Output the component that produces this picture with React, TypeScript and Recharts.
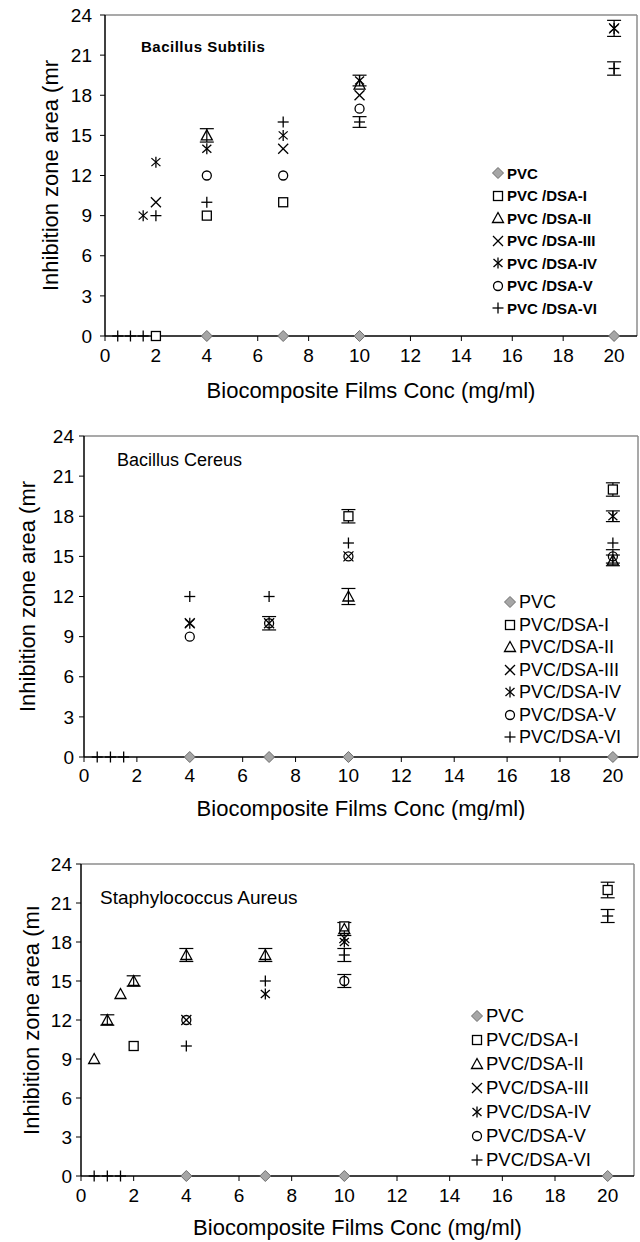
import React from "react";
import {
  ScatterChart,
  Scatter,
  XAxis,
  YAxis,
  ErrorBar,
  ReferenceLine
} from "recharts";

const FONT = '"Liberation Sans", Arial, sans-serif';

// concentrations (mg/ml) shared by all panels
const conc = [0.5, 1, 1.5, 2, 4, 7, 10, 20];
const xTicks = [0, 2, 4, 6, 8, 10, 12, 14, 16, 18, 20];
const yTicks = [0, 3, 6, 9, 12, 15, 18, 21, 24];

const seriesNames = ["PVC", "PVC/DSA-I", "PVC/DSA-II", "PVC/DSA-III", "PVC/DSA-IV", "PVC/DSA-V", "PVC/DSA-VI"];
const seriesMarks = ["diamond", "square", "triangle", "x", "star", "circle", "plus"];

type V = number | null;

// Bacillus Subtilis
const subPVC: V[] = [null, null, null, null, 0, 0, 0, 0];
const subI: V[] = [null, null, null, 0, 9, 10, null, null];
const subII: V[] = [null, null, null, null, 15, null, 18.8, null];
const subIII: V[] = [null, null, null, 10, null, 14, 18, 23];
const subIV: V[] = [null, null, 9, 13, 14, 15, 19.1, 23];
const subV: V[] = [null, null, null, null, 12, 12, 17, null];
const subVI: V[] = [0, 0, 0, 9, 10, 16, 16, 20];
const subIIErr: V[] = [null, null, null, null, 0.5, null, null, null];
const subIVErr: V[] = [null, null, null, null, null, null, 0.4, 0.6];
const subVIErr: V[] = [null, null, null, null, null, null, 0.4, 0.5];

// Bacillus Cereus
const cerPVC: V[] = [null, null, null, null, 0, 0, 0, 0];
const cerI: V[] = [null, null, null, null, null, null, 18, 20];
const cerII: V[] = [null, null, null, null, null, null, 12, 14.7];
const cerIII: V[] = [null, null, null, null, 10, 10, 15, null];
const cerIV: V[] = [null, null, null, null, 10, null, null, 18];
const cerV: V[] = [null, null, null, null, 9, 10, 15, 15];
const cerVI: V[] = [0, 0, 0, null, 12, 12, 16, 16];
const cerIErr: V[] = [null, null, null, null, null, null, 0.5, 0.5];
const cerIIErr: V[] = [null, null, null, null, null, null, 0.6, 0.4];
const cerIVErr: V[] = [null, null, null, null, null, null, null, 0.4];
const cerVErr: V[] = [null, null, null, null, null, 0.5, null, 0.5];

// Staphylococcus Aureus
const aurPVC: V[] = [null, null, null, null, 0, 0, 0, 0];
const aurI: V[] = [null, null, null, 10, null, null, 19.2, 22];
const aurII: V[] = [9, 12, 14, 15, 17, 17, 19, null];
const aurIII: V[] = [null, null, null, null, 12, null, 18.3, null];
const aurIV: V[] = [null, null, null, null, null, 14, 18, null];
const aurV: V[] = [null, null, null, null, 12, null, 15, null];
const aurVI: V[] = [0, 0, 0, null, 10, 15, 17, 20];
const aurIErr: V[] = [null, null, null, null, null, null, null, 0.6];
const aurIIErr: V[] = [null, 0.4, null, 0.4, 0.5, 0.5, 0.5, null];
const aurVErr: V[] = [null, null, null, null, null, null, 0.5, null];
const aurVIErr: V[] = [null, null, null, null, null, null, 0.5, 0.5];

function Mark({ kind, cx, cy }: { kind: string; cx: number; cy: number }) {
  const s = 5;
  const k = { stroke: "#000", strokeWidth: 1.3, fill: "none" };
  switch (kind) {
    case "diamond":
      return (
        <polygon
          points={`${cx},${cy - 5.5} ${cx + 5.5},${cy} ${cx},${cy + 5.5} ${cx - 5.5},${cy}`}
          fill="#a6a6a6"
          stroke="#6e6e6e"
          strokeWidth={1}
        />
      );
    case "square":
      return <rect x={cx - 4.5} y={cy - 4.5} width={9} height={9} {...k} fill="#fff" />;
    case "triangle":
      return <polygon points={`${cx},${cy - 5.5} ${cx + 5.5},${cy + 4.5} ${cx - 5.5},${cy + 4.5}`} {...k} />;
    case "x":
      return (
        <g {...k}>
          <line x1={cx - s} y1={cy - s} x2={cx + s} y2={cy + s} />
          <line x1={cx - s} y1={cy + s} x2={cx + s} y2={cy - s} />
        </g>
      );
    case "star":
      return (
        <g {...k}>
          <line x1={cx - 4.5} y1={cy - 4} x2={cx + 4.5} y2={cy + 4} />
          <line x1={cx - 4.5} y1={cy + 4} x2={cx + 4.5} y2={cy - 4} />
          <line x1={cx} y1={cy - 5.5} x2={cx} y2={cy + 5.5} />
        </g>
      );
    case "circle":
      return <circle cx={cx} cy={cy} r={4.5} {...k} />;
    default:
      return (
        <g {...k}>
          <line x1={cx - 5.5} y1={cy} x2={cx + 5.5} y2={cy} />
          <line x1={cx} y1={cy - 5.5} x2={cx} y2={cy + 5.5} />
        </g>
      );
  }
}

const toPoints = (vals: V[], errs?: V[]) =>
  conc
    .map((x, i) => ({ x, y: vals[i], err: errs && errs[i] != null ? errs[i] : undefined }))
    .filter((d) => d.y != null);

type PanelProps = {
  height: number;
  plotTop: number;
  plotBottom: number;
  left: number;
  right: number;
  xMax: number;
  species: string;
  speciesStyle: React.CSSProperties;
  speciesPos: [number, number];
  yLabel: string;
  yLabelDx: number;
  titleOffset: number;
  tickFont: number;
  xTickMargin: number;
  yTickMargin: number;
  legendPos: [number, number];
  legendGap: number;
  legendStyle: React.CSSProperties;
  legendNames: string[];
  series: { vals: V[]; errs?: V[] }[];
};

function Panel(p: PanelProps) {
  return (
    <div style={{ position: "relative", width: 640, height: p.height }}>
      <ScatterChart
        width={640}
        height={p.height}
        margin={{ top: p.plotTop, right: 640 - p.right, bottom: 0, left: 0 }}
        style={{ fontFamily: FONT, overflow: "visible" }}
      >
        <XAxis
          type="number"
          dataKey="x"
          domain={[0, p.xMax]}
          ticks={xTicks}
          allowDataOverflow
          height={p.height - p.plotBottom}
          axisLine={{ stroke: "#000", strokeWidth: 1.5 }}
          tickLine={{ stroke: "#000" }}
          tickSize={5}
          tickMargin={p.xTickMargin}
          tick={{ fill: "#000", fontSize: p.tickFont }}
          label={{
            value: "Biocomposite Films Conc (mg/ml)",
            position: "insideBottom",
            offset: p.titleOffset,
            style: { fontSize: 22, fill: "#000" }
          }}
        />
        <YAxis
          type="number"
          dataKey="y"
          domain={[0, 24]}
          ticks={yTicks}
          width={p.left}
          axisLine={{ stroke: "#000", strokeWidth: 1.5 }}
          tickLine={{ stroke: "#000" }}
          tickSize={5}
          tickMargin={p.yTickMargin}
          tick={{ fill: "#000", fontSize: p.tickFont }}
          label={{
            value: p.yLabel,
            angle: -90,
            position: "center",
            dx: p.yLabelDx,
            style: { fontSize: 22, fill: "#000", textAnchor: "middle" }
          }}
        />
        <ReferenceLine y={24} stroke="#8c8c8c" strokeWidth={1.5} />
        <ReferenceLine x={p.xMax} stroke="#8c8c8c" strokeWidth={1.5} />
        {p.series.map((s, i) => (
          <Scatter
            key={seriesNames[i]}
            name={seriesNames[i]}
            data={toPoints(s.vals, s.errs)}
            isAnimationActive={false}
            shape={(props: any) => <Mark kind={seriesMarks[i]} cx={props.cx} cy={props.cy} />}
          >
            {s.errs && <ErrorBar dataKey="err" direction="y" width={7} stroke="#000" strokeWidth={1.2} />}
          </Scatter>
        ))}
      </ScatterChart>
      <div
        style={{
          position: "absolute",
          left: p.speciesPos[0],
          top: p.speciesPos[1],
          fontFamily: FONT,
          whiteSpace: "nowrap",
          lineHeight: 1,
          ...p.speciesStyle
        }}
      >
        {p.species}
      </div>
      <div style={{ position: "absolute", left: p.legendPos[0], top: p.legendPos[1], fontFamily: FONT }}>
        {p.legendNames.map((n, i) => (
          <div key={n} style={{ display: "flex", alignItems: "center", height: p.legendGap, whiteSpace: "nowrap" }}>
            <svg width={14} height={14} style={{ marginRight: 2 }}>
              <Mark kind={seriesMarks[i]} cx={7} cy={7} />
            </svg>
            <span style={{ lineHeight: 1, ...p.legendStyle }}>{n}</span>
          </div>
        ))}
      </div>
    </div>
  );
}

export default function App() {
  return (
    <div style={{ position: "absolute", left: 0, top: 0, width: 640, height: 1242, background: "#fff" }}>
      <Panel
        height={420}
        plotTop={15}
        plotBottom={336}
        left={105}
        right={637}
        xMax={20.9}
        species="Bacillus Subtilis"
        speciesStyle={{ fontSize: 15, fontWeight: "bold", letterSpacing: 0.5 }}
        speciesPos={[141, 39]}
        yLabel="Inhibition zone area (mr"
        yLabelDx={-2}
        titleOffset={22}
        tickFont={19}
        xTickMargin={8}
        yTickMargin={8}
        legendPos={[491, 162]}
        legendGap={22.5}
        legendStyle={{ fontSize: 15, fontWeight: "bold" }}
        legendNames={seriesNames.map((n) => n.replace("/", " /"))}
        series={[
          { vals: subPVC },
          { vals: subI },
          { vals: subII, errs: subIIErr },
          { vals: subIII },
          { vals: subIV, errs: subIVErr },
          { vals: subV },
          { vals: subVI, errs: subVIErr }
        ]}
      />
      <Panel
        height={400}
        plotTop={16}
        plotBottom={337}
        left={84}
        right={638}
        xMax={20.95}
        species="Bacillus Cereus"
        speciesStyle={{ fontSize: 18 }}
        speciesPos={[117, 31]}
        yLabel="Inhibition zone area (mr"
        yLabelDx={-15}
        titleOffset={4}
        tickFont={19}
        xTickMargin={7}
        yTickMargin={5}
        legendPos={[503, 171]}
        legendGap={22.5}
        legendStyle={{ fontSize: 18 }}
        legendNames={seriesNames}
        series={[
          { vals: cerPVC },
          { vals: cerI, errs: cerIErr },
          { vals: cerII, errs: cerIIErr },
          { vals: cerIII },
          { vals: cerIV, errs: cerIVErr },
          { vals: cerV, errs: cerVErr },
          { vals: cerVI }
        ]}
      />
      <Panel
        height={422}
        plotTop={44}
        plotBottom={356}
        left={81}
        right={634}
        xMax={21}
        species="Staphylococcus Aureus"
        speciesStyle={{ fontSize: 19 }}
        speciesPos={[100, 68]}
        yLabel="Inhibition zone area (mı"
        yLabelDx={-9}
        titleOffset={7}
        tickFont={19}
        xTickMargin={8}
        yTickMargin={4}
        legendPos={[470, 184]}
        legendGap={24}
        legendStyle={{ fontSize: 18.5 }}
        legendNames={seriesNames}
        series={[
          { vals: aurPVC },
          { vals: aurI, errs: aurIErr },
          { vals: aurII, errs: aurIIErr },
          { vals: aurIII },
          { vals: aurIV },
          { vals: aurV, errs: aurVErr },
          { vals: aurVI, errs: aurVIErr }
        ]}
      />
    </div>
  );
}
